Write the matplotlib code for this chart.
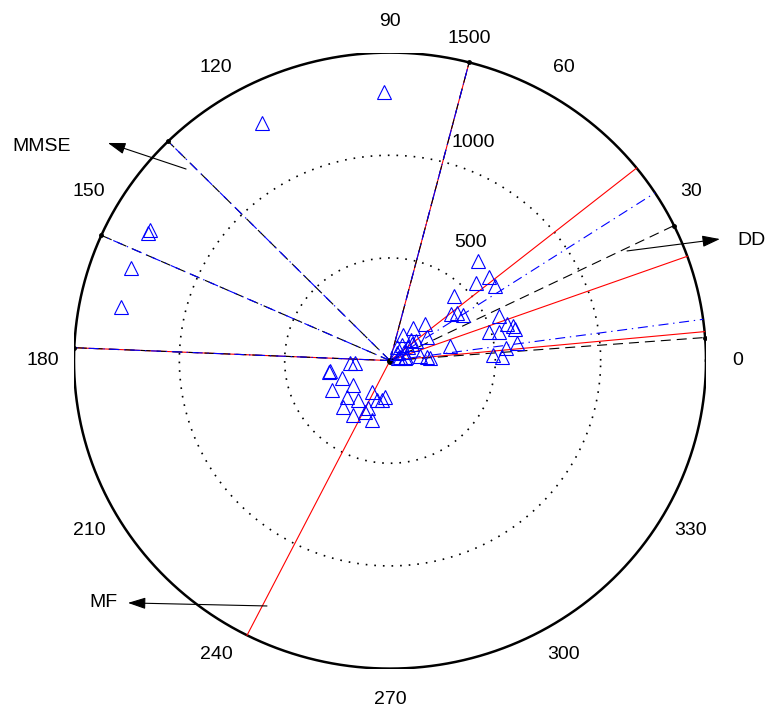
import numpy as np
import matplotlib
matplotlib.use('Agg')
import matplotlib.pyplot as plt

plt.rcParams['font.family'] = ['Liberation Sans', 'DejaVu Sans']
plt.rcParams['lines.scale_dashes'] = False

# estimated symbols (real / imaginary parts)
sym_re = [-28, -608, -1139, -1149, -1229, -1277,
          419, 471, 408, 498, 304, 290, 319, 345, 517, 554, 585, 593, 470, 517,
          111, 166, 63, 174, 98, 285, 601, 551, 490, 530, 174, 190, 32, 76,
          47, 66, 85, 104, 38, 123, 71, 142, 33, 57,
          -285, -288, -190, -166, -229, -277, -174, -206, -87, -24, -39, -222,
          -150, -119, -87, -174, -103, -63]
sym_im = [1308, 1157, 636, 621, 451, 261,
          487, 409, 376, 365, 315, 227, 233, 221, 219, 177, 169, 155, 138, 138,
          157, 177, 125, 116, 100, 71, 87, 60, 27, 16, 19, 11, 36, 19,
          18, 42, 66, 81, 13, 95, 13, 22, 66, 76,
          -49, -57, -13, -13, -86, -143, -119, -176, -151, -176, -192, -225,
          -192, -249, -289, -265, -232, -192]

# direction estimates (degrees) for each method
mf_deg = [75.5, 177.6, 243.1, 38.7, 19.8, 5.4]
mmse_deg = [75.5, 177.6, 134.6, 156.0, 33.0, 7.7]
dd_deg = [75.5, 177.6, 134.6, 156.0, 26.0, 4.3]

rmax = 1500
rings = [500, 1000]
ang_ticks = np.arange(0, 360, 30)
fs = 14

fig = plt.figure(figsize=(7.68, 7.13), dpi=100)
ax = fig.add_axes([74 / 768, 44.4 / 713, 632 / 768, 616 / 713])
ax.set_xlim(-rmax, rmax)
ax.set_ylim(-rmax, rmax)
ax.axis('off')

t = np.linspace(0, 2 * np.pi, 721)
for r in rings:
    ax.plot(r * np.cos(t), r * np.sin(t), color='k', lw=1.2,
            linestyle=(0, (1.2, 5)))
ax.plot(rmax * np.cos(t), rmax * np.sin(t), color='k', lw=1.8)

# radial labels
ax.text(380, 573, '500', fontsize=fs, ha='center', va='center')
ax.text(394, 1060, '1000', fontsize=fs, ha='center', va='center')
ax.text(375, 1571, '1500', fontsize=fs, ha='center', va='center')

for a in ang_ticks:
    ax.text(1.1 * rmax * np.cos(np.radians(a)), 1.1 * rmax * np.sin(np.radians(a)),
            str(a), fontsize=fs, ha='center', va='center')


def rays(deg):
    xs, ys = [], []
    for d in deg:
        xs += [0, rmax * np.cos(np.radians(d)), np.nan]
        ys += [0, rmax * np.sin(np.radians(d)), np.nan]
    return xs, ys


x, y = rays(mf_deg)
ax.plot(x, y, color='r', lw=0.8)
x, y = rays(dd_deg)
ax.plot(x, y, color='k', lw=0.8, linestyle=(0, (7.2, 4.3)))
x, y = rays(mmse_deg)
ax.plot(x, y, color='b', lw=0.8, linestyle=(0, (7.2, 3.4, 1.0, 3.4)))
for d in dd_deg:
    ax.plot([0, rmax * np.cos(np.radians(d))], [0, rmax * np.sin(np.radians(d))],
            linestyle='none', marker='o', ms=2.5, color='k')
ax.plot([0], [0], marker='o', ms=4, color='k')

ax.plot(sym_re, sym_im, linestyle='none', marker='^', ms=10,
        markerfacecolor='none', markeredgecolor='b', markeredgewidth=0.8)

arrow = dict(arrowstyle='-|>,head_length=0.4,head_width=0.13', mutation_scale=27,
             color='k', lw=0.8, shrinkA=0, shrinkB=0)
ax.annotate('', xy=(-1339, 1060), xytext=(-968, 933), arrowprops=arrow,
            annotation_clip=False)
ax.annotate('', xy=(1566, 592), xytext=(1125, 534), arrowprops=arrow,
            annotation_clip=False)
ax.annotate('', xy=(-1244, -1180), xytext=(-584, -1195), arrowprops=arrow,
            annotation_clip=False)
ax.text(-1652, 1045, 'MMSE', fontsize=fs, ha='center', va='center')
ax.text(1714, 587, 'DD', fontsize=fs, ha='center', va='center')
ax.text(-1362, -1180, 'MF', fontsize=fs, ha='center', va='center')

fig.savefig('out.png', dpi=100, facecolor='white')
